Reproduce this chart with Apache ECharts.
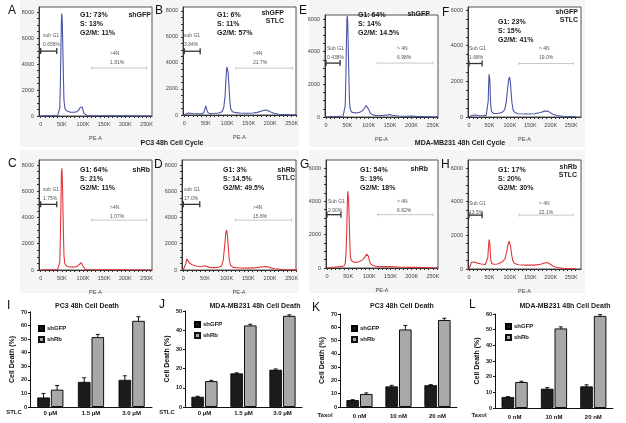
<!DOCTYPE html>
<html><head><meta charset="utf-8">
<script src="https://cdn.jsdelivr.net/npm/echarts@6/dist/echarts.min.js"></script>
<style>html,body{margin:0;padding:0;background:#fff}#c{width:626px;height:423px}</style>
</head><body><div id="c"></div><script>
// ---------- DATA ----------
// histogram x in thousands (PE-A, K), y = count
const histA = [[0,0],[10,10],[20,10],[30,20],[40,30],[43,100],[45,600],[46.5,2500],[48,5500],[49,7500],[50,7900],[51,7300],[52.5,5000],[54,2600],[55,1200],[57,600],[60,420],[65,350],[70,300],[75,290],[80,300],[85,330],[90,450],[93,650],[96,800],[98,700],[100,450],[102,200],[105,80],[110,40],[130,20],[150,15],[200,10],[250,5],[262,0]];
const histB = [[0,0],[5,100],[10,150],[20,120],[30,100],[40,90],[45,150],[48,450],[50,700],[52,450],[55,180],[60,120],[70,130],[80,150],[88,250],[92,600],[95,1500],[97,2800],[99,3700],[100,3800],[102,3300],[104,2200],[106,1100],[108,500],[112,250],[120,180],[130,150],[140,130],[150,130],[160,150],[170,200],[180,300],[188,380],[193,360],[200,250],[210,120],[220,60],[240,30],[262,10]];
const histE = [[0,0],[10,20],[20,30],[30,40],[40,60],[43,150],[45,700],[46.5,2500],[48,4800],[49,6000],[50,6200],[51,5600],[52.5,3800],[54,2000],[55,900],[57,450],[60,300],[65,260],[70,250],[75,260],[80,300],[85,380],[90,550],[94,700],[96,740],[98,650],[100,450],[103,250],[108,150],[115,100],[130,90],[145,130],[150,150],[155,110],[170,60],[190,50],[200,60],[210,40],[230,20],[262,0]];
const histF = [[0,0],[3,80],[8,100],[15,110],[25,80],[35,70],[42,90],[45,200],[47,900],[48,1800],[49,2400],[50,2500],[51,2100],[52,1300],[53,700],[55,300],[60,200],[70,200],[80,250],[87,400],[91,800],[94,1500],[97,2100],[99,2250],[101,2000],[103,1400],[105,800],[108,400],[112,250],[120,180],[140,170],[160,180],[175,250],[185,330],[192,340],[198,260],[205,150],[215,80],[230,40],[262,10]];
const histC = [[0,0],[10,10],[20,15],[30,20],[40,30],[43,100],[45,600],[46.5,2400],[48,5400],[49,7400],[50,7750],[51,7100],[52.5,4800],[54,2400],[55,1100],[57,500],[60,330],[65,260],[70,230],[75,220],[80,230],[85,260],[90,380],[93,500],[96,560],[98,480],[100,300],[102,150],[105,60],[110,30],[130,20],[150,15],[200,10],[250,5],[262,0]];
const histD = [[0,0],[3,50],[6,500],[8,850],[10,750],[14,550],[20,400],[30,300],[40,250],[45,280],[50,330],[53,270],[60,200],[70,180],[80,190],[88,300],[92,700],[95,1700],[98,2800],[100,3050],[102,2600],[104,1600],[106,800],[109,350],[115,200],[130,150],[150,140],[170,180],[185,250],[192,260],[200,180],[210,90],[230,40],[262,10]];
const histG = [[0,0],[10,30],[20,60],[30,80],[40,120],[43,250],[45,900],[46.5,2200],[48,3800],[49,4600],[50,4700],[51,4200],[52.5,2800],[54,1500],[55,800],[57,450],[60,350],[65,330],[70,350],[75,380],[80,430],[85,520],[90,680],[94,830],[96,840],[98,700],[100,450],[103,250],[108,150],[115,100],[130,80],[150,90],[170,60],[200,40],[230,20],[262,0]];
const histH = [[0,0],[3,100],[6,400],[9,480],[13,420],[20,350],[30,300],[40,270],[44,350],[46,700],[48,1400],[49,1750],[50,1800],[51,1500],[52,1000],[53,600],[55,350],[60,280],[70,300],[80,400],[88,600],[92,1000],[95,1400],[98,1650],[100,1600],[102,1300],[104,900],[107,500],[110,350],[120,250],[140,230],[160,230],[175,280],[185,360],[192,380],[198,300],[205,180],[215,90],[230,40],[262,10]];
// gates: [fromK, toK, count, dark(1)/light(0)]
const gatesA = [[0,38,5000,1],[120,250,3700,0]];
const gatesB = [[0,37,4900,1],[120,252,3600,0]];
const gatesE = [[0,33,3300,1],[120,250,3300,0]];
const gatesF = [[0,32,3000,1],[122,255,3000,0]];
const gatesC = [[0,38,5000,1],[120,250,3800,0]];
const gatesD = [[0,38,5000,1],[120,250,3800,0]];
const gatesG = [[0,33,3200,1],[120,250,3200,0]];
const gatesH = [[0,32,3200,1],[122,255,3200,0]];
const xLabelVals = [0,50,100,150,200,250];
const xTickVals = [0,10,20,30,40,50,60,70,80,90,100,110,120,130,140,150,160,170,180,190,200,210,220,230,240,250,260];
const y8Labels = [0,2000,4000,6000,8000];
const y8Ticks = [0,500,1000,1500,2000,2500,3000,3500,4000,4500,5000,5500,6000,6500,7000,7500,8000];
const y6Labels = [0,2000,4000,6000];
const y6Ticks = [0,500,1000,1500,2000,2500,3000,3500,4000,4500,5000,5500,6000];

// bar charts
const stlcCats = ['0 μM','1.5 μM','3.0 μM'];
const taxolCats = ['0 nM','10 nM','20 nM'];
const I_shGFP = [7,18.5,20],   I_shGFP_err = [3,3,3];
const I_shRb  = [12.8,51.5,63.5], I_shRb_err = [3,2,3];
const J_shGFP = [5.3,17.5,19.4], J_shGFP_err = [0.3,0.3,0.4];
const J_shRb  = [13.5,42.5,47.5], J_shRb_err = [0.4,0.6,0.5];
const K_shGFP = [5.2,15.5,16.4], K_shGFP_err = [0.3,0.8,0.4];
const K_shRb  = [9.8,58.4,65.5], K_shRb_err = [0.8,3,1.3];
const L_shGFP = [7,12.3,13.8], L_shGFP_err = [0.2,0.7,1];
const L_shRb  = [16.6,50.8,58.8], L_shRb_err = [0.5,1,0.8];

// ---------- LAYOUT ----------
const FONT = 'Liberation Sans, Arial, sans-serif';
const BLUE = '#4b54a6', RED = '#e2373a';
const hist = [
  {data:histA,gates:gatesA,color:BLUE,l:39,t:7,w:113,h:109,xmin:-4,xmax:263,ymax:8400,yl:y8Labels,yt:y8Ticks},
  {data:histB,gates:gatesB,color:BLUE,l:183,t:7,w:113,h:108,xmin:-3,xmax:260,ymax:8300,yl:y8Labels,yt:y8Ticks},
  {data:histE,gates:gatesE,color:BLUE,l:325,t:15,w:113,h:102,xmin:-2.3,xmax:262,ymax:6245,yl:y6Labels,yt:y6Ticks},
  {data:histF,gates:gatesF,color:BLUE,l:468,t:7,w:113,h:110,xmin:-2.5,xmax:274,ymax:6170,yl:y6Labels,yt:y6Ticks},
  {data:histC,gates:gatesC,color:RED,l:39,t:160,w:113,h:110,xmin:-4,xmax:263,ymax:8380,yl:y8Labels,yt:y8Ticks},
  {data:histD,gates:gatesD,color:RED,l:182,t:160,w:114,h:110,xmin:-3,xmax:260,ymax:8380,yl:y8Labels,yt:y8Ticks},
  {data:histG,gates:gatesG,color:RED,l:326,t:160,w:112,h:108,xmin:-2.3,xmax:262,ymax:6480,yl:y6Labels,yt:y6Ticks},
  {data:histH,gates:gatesH,color:RED,l:468,t:160,w:113,h:109,xmin:-2.5,xmax:274,ymax:6475,yl:y6Labels,yt:y6Ticks}
];
const bars = [
  {cats:stlcCats,g:I_shGFP,ge:I_shGFP_err,r:I_shRb,re:I_shRb_err,l:30,t:312,w:122,h:95,ymax:70,lm:3,leg:[33,320]},
  {cats:stlcCats,g:J_shGFP,ge:J_shGFP_err,r:J_shRb,re:J_shRb_err,l:185,t:311,w:117,h:96,ymax:50,lm:3,leg:[189,316]},
  {cats:taxolCats,g:K_shGFP,ge:K_shGFP_err,r:K_shRb,re:K_shRb_err,l:340,t:314,w:117,h:93,ymax:70,lm:6,leg:[346,320]},
  {cats:taxolCats,g:L_shGFP,ge:L_shGFP_err,r:L_shRb,re:L_shRb_err,l:495,t:314,w:118,h:94,ymax:60,lm:6,leg:[500,318]}
];

const grid=[], xAxis=[], yAxis=[], series=[], legend=[], graphic=[];
// background panels
[[20,0,279,147],[20,150,279,143],[309,0,276,147],[309,150,276,143]].forEach(r=>{
  graphic.push({type:'rect',z:-1,silent:true,shape:{x:r[0],y:r[1],width:r[2],height:r[3]},style:{fill:'#f5f5f5'}});
});

hist.forEach((p,i)=>{
  grid.push({left:p.l,top:p.t,width:p.w,height:p.h,show:true,backgroundColor:'#fff',borderColor:'#555',borderWidth:1});
  xAxis.push({type:'value',gridIndex:i,min:p.xmin,max:p.xmax,name:'PE-A',nameLocation:'middle',nameGap:19,
    nameTextStyle:{fontSize:5.5,color:'#444',fontFamily:FONT},
    axisLine:{show:true,onZero:false,lineStyle:{color:'#333'}},
    axisTick:{show:true,customValues:xTickVals,length:2,lineStyle:{color:'#333'}},
    axisLabel:{customValues:xLabelVals,formatter:v=>v===0?'0':v+'K',fontSize:5.5,color:'#444',margin:5,fontFamily:FONT},
    splitLine:{show:false}});
  yAxis.push({type:'value',gridIndex:i,min:0,max:p.ymax,
    axisLine:{show:true,onZero:false,lineStyle:{color:'#333'}},
    axisTick:{show:true,customValues:p.yt,length:2,lineStyle:{color:'#333'}},
    axisLabel:{customValues:p.yl,formatter:v=>String(v),fontSize:5.5,color:'#444',margin:5,fontFamily:FONT},
    splitLine:{show:false}});
  series.push({type:'line',xAxisIndex:i,yAxisIndex:i,data:p.data,showSymbol:false,clip:true,
    lineStyle:{color:p.color,width:1.1},z:3,silent:true});
  series.push({type:'custom',xAxisIndex:i,yAxisIndex:i,data:p.gates,z:4,silent:true,
    renderItem:(params,api)=>{
      const a=api.coord([api.value(0),api.value(2)]), b=api.coord([api.value(1),api.value(2)]);
      const dark=api.value(3)===1, col=dark?'#333':'#bbb', lw=dark?1.3:0.8, c=dark?3:1.5;
      return {type:'group',children:[
        {type:'line',shape:{x1:a[0],y1:a[1],x2:b[0],y2:b[1]},style:{stroke:col,lineWidth:lw}},
        {type:'line',shape:{x1:a[0],y1:a[1]-c,x2:a[0],y2:a[1]+c},style:{stroke:col,lineWidth:lw}},
        {type:'line',shape:{x1:b[0],y1:b[1]-c,x2:b[0],y2:b[1]+c},style:{stroke:col,lineWidth:lw}}]};
    }});
});

const errRender=(side)=>(params,api)=>{
  const c=api.coord([api.value(0),api.value(1)]);
  const top=api.coord([api.value(0),api.value(1)+api.value(2)]);
  const bot=api.coord([api.value(0),api.value(1)-api.value(2)]);
  const x=c[0]+side*6.8;
  return {type:'group',children:[
    {type:'line',shape:{x1:x,y1:top[1],x2:x,y2:bot[1]},style:{stroke:'#111',lineWidth:1}},
    {type:'line',shape:{x1:x-2,y1:top[1],x2:x+2,y2:top[1]},style:{stroke:'#111',lineWidth:1}},
    {type:'line',shape:{x1:x-2,y1:bot[1],x2:x+2,y2:bot[1]},style:{stroke:'#111',lineWidth:1}}]};
};
bars.forEach((b,k)=>{
  const i=hist.length+k;
  grid.push({left:b.l,top:b.t,width:b.w,height:b.h});
  xAxis.push({type:'category',gridIndex:i,data:b.cats,
    axisLine:{lineStyle:{color:'#111'}},axisTick:{show:false},
    axisLabel:{fontSize:6,fontWeight:'bold',color:'#111',margin:b.lm,fontFamily:FONT}});
  yAxis.push({type:'value',gridIndex:i,min:0,max:b.ymax,interval:10,name:'Cell Death (%)',nameLocation:'middle',nameGap:14,
    nameTextStyle:{fontSize:7,fontWeight:'bold',color:'#111',fontFamily:FONT},
    axisLine:{show:true,lineStyle:{color:'#111'}},axisTick:{show:true,length:2,lineStyle:{color:'#111'}},
    axisLabel:{fontSize:5.5,fontWeight:'bold',color:'#111',margin:3,fontFamily:FONT},splitLine:{show:false}});
  series.push({type:'bar',name:'shGFP',xAxisIndex:i,yAxisIndex:i,data:b.g,barWidth:12.6,barGap:'8%',z:3,
    itemStyle:{color:'#1c1c1c',borderColor:'#000',borderWidth:0.8}});
  series.push({type:'bar',name:'shRb',xAxisIndex:i,yAxisIndex:i,data:b.r,barWidth:12.6,barGap:'8%',z:3,
    itemStyle:{color:'#a8a8a8',borderColor:'#111',borderWidth:1}});
  series.push({type:'custom',xAxisIndex:i,yAxisIndex:i,z:2,silent:true,data:b.g.map((v,j)=>[j,v,b.ge[j]]),renderItem:errRender(-1)});
  series.push({type:'custom',xAxisIndex:i,yAxisIndex:i,z:2,silent:true,data:b.r.map((v,j)=>[j,v,b.re[j]]),renderItem:errRender(1)});
  legend.push({data:['shGFP','shRb'],orient:'vertical',left:b.leg[0],top:b.leg[1],itemWidth:5,itemHeight:5,itemGap:4,
    icon:'rect',selectedMode:false,textStyle:{fontSize:6,fontWeight:'bold',color:'#111',fontFamily:FONT,padding:[0,0,0,-2]}});
});

function TC(cx,cy,text,o){o=o||{};graphic.push({type:'text',z:100,silent:true,x:cx,y:cy,
  style:{text:text,fontSize:o.fs||7,fontWeight:o.fw||'bold',fill:o.color||'#1a1a1a',fontFamily:FONT,lineHeight:o.lh||9,
  align:o.align||'center',verticalAlign:o.va||'middle'}});}
const small={fs:5,fw:'normal',color:'#555',lh:9,align:'left',va:'top'};
const statsO={fs:7,lh:9,align:'left',va:'top'};
// histogram annotations
const ann=[
 {s:[80,11],st:'G1: 73%\nS: 13%\nG2/M: 11%',tg:[151,11],tag:'shGFP',sb:[43,31],sbt:'sub G1\n0.656%',n4:[110,49],n4t:'>4N\n1.81%'},
 {s:[217,11],st:'G1: 6%\nS: 11%\nG2/M: 57%',tg:[284,9],tag:'shGFP\nSTLC',sb:[184,31],sbt:'sub G1\n3.84%',n4:[253,49],n4t:'>4N\n21.7%'},
 {s:[358,11],st:'G1: 64%\nS: 14%\nG2/M: 14.5%',tg:[430,10],tag:'shGFP',sb:[327,44],sbt:'Sub G1\n0.438%',n4:[397,44],n4t:'> 4N\n6.98%'},
 {s:[498,18],st:'G1: 23%\nS: 15%\nG2/M: 41%',tg:[578,8],tag:'shGFP\nSTLC',sb:[469,44],sbt:'Sub G1\n1.68%',n4:[539,44],n4t:'> 4N\n19.0%'},
 {s:[80,166],st:'G1: 64%\nS: 21%\nG2/M: 11%',tg:[150,166],tag:'shRb',sb:[43,185],sbt:'sub G1\n1.75%',n4:[110,203],n4t:'>4N\n1.07%'},
 {s:[223,166],st:'G1: 3%\nS: 14.5%\nG2/M: 49.5%',tg:[295,166],tag:'shRb\nSTLC',sb:[184,185],sbt:'sub G1\n17.0%',n4:[253,203],n4t:'>4N\n15.8%'},
 {s:[360,166],st:'G1: 54%\nS: 19%\nG2/M: 18%',tg:[428,165],tag:'shRb',sb:[328,197],sbt:'Sub G1\n2.00%',n4:[397,197],n4t:'> 4N\n6.82%'},
 {s:[498,166],st:'G1: 17%\nS: 20%\nG2/M: 30%',tg:[577,163],tag:'shRb\nSTLC',sb:[469,199],sbt:'Sub G1\n13.5%',n4:[539,199],n4t:'> 4N\n22.1%'}
];
ann.forEach(a=>{
  TC(a.s[0],a.s[1],a.st,statsO);
  TC(a.tg[0],a.tg[1],a.tag,{fs:7,lh:8,align:'right',va:'top'});
  TC(a.sb[0],a.sb[1],a.sbt,small);
  TC(a.n4[0],a.n4[1],a.n4t,small);
});
// panel letters
[['A',8,5],['B',155,5],['E',299,5],['F',442,7],['C',8,158],['D',154,159],['G',300,159],['H',441,159],['I',7,300],['J',159,299],['K',312,302],['L',469,299]]
 .forEach(l=>TC(l[1],l[2],l[0],{fs:12,fw:'normal',align:'left',va:'top',color:'#111',lh:12}));
// titles
TC(172,143,'PC3 48h Cell Cycle',{fs:7});
TC(460,143,'MDA-MB231 48h Cell Cycle',{fs:7});
TC(87,306,'PC3 48h Cell Death',{fs:7});
TC(255,306,'MDA-MB231 48h Cell Death',{fs:7});
TC(402,306,'PC3 48h Cell Death',{fs:7});
TC(565,306,'MDA-MB231 48h Cell Death',{fs:7});
TC(14,412,'STLC',{fs:6});
TC(167,412,'STLC',{fs:6});
TC(325,415,'Taxol',{fs:6});
TC(479,415,'Taxol',{fs:6});

const chart=echarts.init(document.getElementById('c'),null,{renderer:'canvas'});
chart.setOption({animation:false,backgroundColor:'#fff',textStyle:{fontFamily:FONT},grid,xAxis,yAxis,series,legend,graphic});
</script></body></html>
